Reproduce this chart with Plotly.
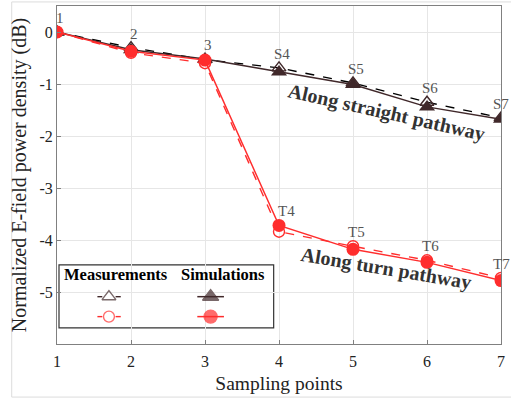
import plotly.graph_objects as go

# Sampling points and normalized E-field power density (dB)
points = [1, 2, 3, 4, 5, 6, 7]
straight_sim = [0.0, -0.34, -0.52, -0.77, -1.01, -1.44, -1.68]
straight_meas = [0.0, -0.30, -0.53, -0.69, -0.98, -1.35, -1.65]
turn_sim = [0.0, -0.37, -0.54, -3.72, -4.18, -4.43, -4.78]
turn_meas = [0.0, -0.40, -0.60, -3.84, -4.12, -4.39, -4.73]

straight_labels = ["1", "2", "3", "S4", "S5", "S6", "S7"]
turn_labels = ["T4", "T5", "T6", "T7"]

y_ticks = [0, -1, -2, -3, -4, -5]
y_ticktext = ["0", "-1", "-2", "-3", "-4", "-5"]
x_ticks = [1, 2, 3, 4, 5, 6, 7]

DARK = "rgb(64,40,42)"
RED = "rgb(255,45,45)"
SERIF = "Liberation Serif"

fig = go.Figure()

# straight pathway: measurement (dashed, open) and simulation (solid, filled)
fig.add_trace(go.Scatter(
    x=points, y=straight_meas, mode="lines+markers",
    line=dict(color="black", width=1.4, dash="dash"),
    marker=dict(symbol="triangle-up-open", size=12, color=DARK,
                line=dict(width=1.4, color=DARK)),
    showlegend=False))
fig.add_trace(go.Scatter(
    x=points, y=straight_sim, mode="lines+markers",
    line=dict(color=DARK, width=1.5),
    marker=dict(symbol="triangle-up", size=14, color=DARK),
    showlegend=False))

# turn pathway
fig.add_trace(go.Scatter(
    x=points, y=turn_meas, mode="lines+markers",
    line=dict(color=RED, width=1.4, dash="dash"),
    marker=dict(symbol="circle-open", size=11, color=RED,
                line=dict(width=1.4, color=RED)),
    showlegend=False))
fig.add_trace(go.Scatter(
    x=points, y=turn_sim, mode="lines+markers",
    line=dict(color=RED, width=1.5),
    marker=dict(symbol="circle", size=13, color=RED),
    showlegend=False))

annotations = []
label_font = dict(family=SERIF, size=15, color="#555555")


def label_shift(i, first_turn=False):
    if first_turn:
        return 7
    return 0 if i == len(points) - 1 else 3


for i, lab in enumerate(straight_labels):
    top = max(straight_sim[i], straight_meas[i], turn_sim[i], turn_meas[i])
    annotations.append(dict(x=points[i], y=top, text=lab, showarrow=False,
                            xshift=label_shift(i), yshift=14, font=label_font))
for j, lab in enumerate(turn_labels):
    i = j + 3
    top = max(turn_sim[i], turn_meas[i])
    annotations.append(dict(x=points[i], y=top, text=lab, showarrow=False,
                            xshift=label_shift(i, j == 0), yshift=14, font=label_font))

path_font = dict(family=SERIF, size=20, color="#333333")
annotations.append(dict(x=5.45, y=-1.55, text="<b>Along straight pathway</b>",
                        showarrow=False, textangle=12.6, font=path_font))
annotations.append(dict(x=5.44, y=-4.55, text="<b>Along turn pathway</b>",
                        showarrow=False, textangle=9.5, font=path_font))

# custom two-column legend drawn in paper coordinates
head_font = dict(family=SERIF, size=16.5, color="black")
annotations.append(dict(xref="paper", yref="paper", x=0.134, y=0.206,
                        xanchor="center", yanchor="middle",
                        text="<b>Measurements</b>", showarrow=False, font=head_font))
annotations.append(dict(xref="paper", yref="paper", x=0.373, y=0.206,
                        xanchor="center", yanchor="middle",
                        text="<b>Simulations</b>", showarrow=False, font=head_font))

shapes = [
    dict(type="rect", xref="paper", yref="paper", x0=0.0045, x1=0.488,
         y0=0.048, y1=0.234, line=dict(color="#333333", width=1.2),
         fillcolor="white", layer="below"),
    # measurement sample dashes
    dict(type="line", xref="paper", yref="paper", x0=0.091, x1=0.102,
         y0=0.140, y1=0.140, line=dict(color=DARK, width=1.4)),
    dict(type="line", xref="paper", yref="paper", x0=0.132, x1=0.1436,
         y0=0.140, y1=0.140, line=dict(color=DARK, width=1.4)),
    dict(type="line", xref="paper", yref="paper", x0=0.091, x1=0.102,
         y0=0.081, y1=0.081, line=dict(color=RED, width=1.4)),
    dict(type="line", xref="paper", yref="paper", x0=0.132, x1=0.1436,
         y0=0.081, y1=0.081, line=dict(color=RED, width=1.4)),
    # simulation sample lines
    dict(type="line", xref="paper", yref="paper", x0=0.316, x1=0.376,
         y0=0.140, y1=0.140, line=dict(color=DARK, width=1.5)),
    dict(type="line", xref="paper", yref="paper", x0=0.316, x1=0.376,
         y0=0.081, y1=0.081, line=dict(color=RED, width=1.5)),
    # light outer frame
    dict(type="line", xref="paper", yref="paper", x0=-0.102, x1=-0.102,
         y0=-0.157, y1=1.012, line=dict(color="#dcdcdc", width=1)),
    dict(type="line", xref="paper", yref="paper", x0=-0.102, x1=1.03,
         y0=1.012, y1=1.012, line=dict(color="#dcdcdc", width=1)),
    dict(type="line", xref="paper", yref="paper", x0=-0.102, x1=1.03,
         y0=-0.157, y1=-0.157, line=dict(color="#dcdcdc", width=1)),
]

# legend sample markers on an overlay axis matching paper coordinates
fig.add_trace(go.Scatter(
    x=[0.117, 0.117, 0.346, 0.346], y=[0.140, 0.081, 0.140, 0.081],
    mode="markers", xaxis="x2", yaxis="y2", showlegend=False, hoverinfo="skip",
    marker=dict(symbol=["triangle-up-open", "circle-open", "triangle-up", "circle"],
                size=[12, 11, 14, 13], color=[DARK, RED, DARK, RED],
                line=dict(width=1.4, color=[DARK, RED, DARK, RED]))))

axis_common = dict(showline=True, linecolor="#808080", linewidth=1, mirror=True,
                   ticks="inside", ticklen=4, tickcolor="#808080",
                   showgrid=True, gridcolor="#e6e6e6", gridwidth=1, zeroline=False,
                   tickfont=dict(family=SERIF, size=16, color="#222222"))

fig.update_layout(
    width=511, height=401,
    margin=dict(l=57, r=10, t=6, b=57),
    paper_bgcolor="white", plot_bgcolor="white",
    showlegend=False,
    xaxis=dict(range=[1, 7], tickvals=x_ticks, ticklabelstandoff=3,
               title=dict(text="Sampling points", standoff=7,
                          font=dict(family=SERIF, size=19.5, color="#222222")),
               **axis_common),
    yaxis=dict(range=[-6, 0.5], tickvals=y_ticks, ticktext=y_ticktext,
               title=dict(text="Normalized E-field power density (dB)", standoff=7,
                          font=dict(family=SERIF, size=20, color="#222222")),
               **axis_common),
    xaxis2=dict(overlaying="x", range=[0, 1], visible=False, domain=[0, 1]),
    yaxis2=dict(overlaying="y", range=[0, 1], visible=False, domain=[0, 1]),
    annotations=annotations,
    shapes=shapes,
)

fig.write_html("out.html")
